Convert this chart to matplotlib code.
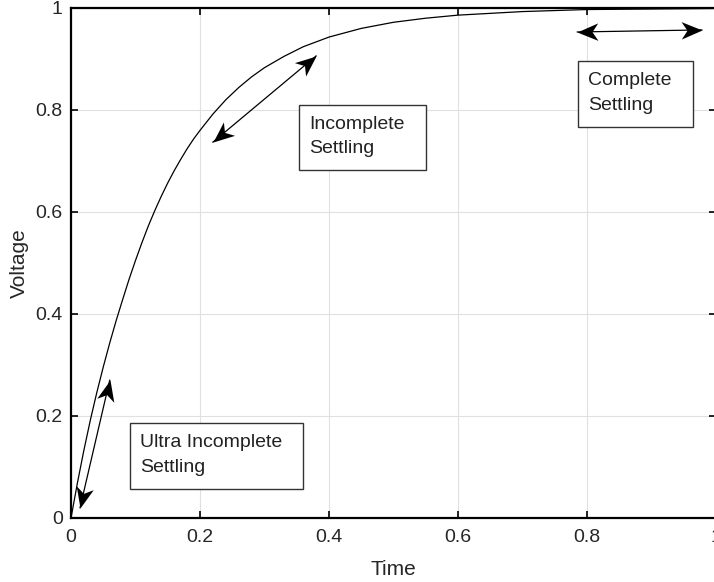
import numpy as np
import matplotlib.pyplot as plt
from matplotlib.patches import Rectangle
from matplotlib.path import Path
from matplotlib.markers import MarkerStyle
from matplotlib.transforms import Affine2D

# step response
time = [0, 0.01, 0.02, 0.03, 0.04, 0.05, 0.06, 0.07, 0.08, 0.09, 0.10, 0.11,
        0.12, 0.13, 0.14, 0.15, 0.16, 0.17, 0.18, 0.19, 0.20, 0.22, 0.24,
        0.26, 0.28, 0.30, 0.33, 0.36, 0.40, 0.45, 0.50, 0.55, 0.60, 0.70,
        0.80, 0.90, 1.00]
voltage = [0, 0.069, 0.133, 0.192, 0.246, 0.296, 0.343, 0.387, 0.428, 0.468,
           0.505, 0.540, 0.573, 0.603, 0.631, 0.657, 0.681, 0.703, 0.724,
           0.743, 0.760, 0.792, 0.820, 0.844, 0.865, 0.883, 0.905, 0.924,
           0.943, 0.960, 0.972, 0.980, 0.986, 0.993, 0.997, 0.998, 0.999]

# double arrows: (start, end)
arrows = [((0.014, 0.02), (0.060, 0.27)),
          ((0.220, 0.737), (0.380, 0.906)),
          ((0.785, 0.953), (0.978, 0.957))]

# text boxes: label, x0, y0, x1, y1
boxes = [("Ultra Incomplete\nSettling", 0.091, 0.057, 0.360, 0.186),
         ("Incomplete\nSettling", 0.353, 0.682, 0.550, 0.810),
         ("Complete\nSettling", 0.786, 0.767, 0.964, 0.896)]

xticks = [0, 0.2, 0.4, 0.6, 0.8, 1]
yticks = [0, 0.2, 0.4, 0.6, 0.8, 1]

plt.rcParams['font.family'] = ['Liberation Sans', 'DejaVu Sans']

fig = plt.figure(figsize=(7.14, 5.82), dpi=100)
ax = fig.add_axes([71 / 714, 64 / 582, 645 / 714, 510 / 582])
ax.set_xlim(0, 1)
ax.set_ylim(0, 1)

ax.plot(time, voltage, color='black', lw=0.9)

# barbed arrow head pointing along +x, tip at origin
head = Path([(0, 0), (-1, 0.42), (-0.72, 0), (-1, -0.42), (0, 0)],
            [Path.MOVETO, Path.LINETO, Path.LINETO, Path.LINETO, Path.CLOSEPOLY])


def draw_head(tip, other):
    p1 = ax.transData.transform(other)
    p2 = ax.transData.transform(tip)
    ang = np.degrees(np.arctan2(p2[1] - p1[1], p2[0] - p1[0]))
    m = MarkerStyle(head, transform=Affine2D().rotate_deg(ang))
    ax.plot([tip[0]], [tip[1]], marker=m, markersize=30, color='black',
            markeredgewidth=0, linestyle='none', clip_on=False, zorder=5)


for (a, b) in arrows:
    ax.plot([a[0], b[0]], [a[1], b[1]], color='black', lw=0.9, zorder=4)
    draw_head(a, b)
    draw_head(b, a)

for label, x0, y0, x1, y1 in boxes:
    ax.add_patch(Rectangle((x0, y0), x1 - x0, y1 - y0, facecolor='white',
                           edgecolor='#333333', lw=1.0, zorder=3))
    ax.text(x0 + 0.016, (y0 + y1) / 2 + 0.002, label, ha='left', va='center',
            fontsize=14, color='#222222', linespacing=1.6, zorder=4)

ax.set_xticks(xticks)
ax.set_yticks(yticks)
ax.set_xticklabels([f"{t:g}" for t in xticks])
ax.set_yticklabels([f"{t:g}" for t in yticks])
ax.grid(True, color='#e0e0e0', lw=0.8)
ax.set_axisbelow(True)
ax.tick_params(direction='in', length=5, width=1.2, top=True, right=True,
               labelsize=14, labelcolor='#262626')
ax.tick_params(axis='x', pad=8)
ax.tick_params(axis='y', pad=6)
for s in ax.spines.values():
    s.set_linewidth(1.6)
    s.set_color('black')

ax.set_xlabel("Time", fontsize=15, color='#262626', labelpad=10)
ax.set_ylabel("Voltage", fontsize=15, color='#262626', labelpad=5)

fig.savefig("out.png", dpi=100)
